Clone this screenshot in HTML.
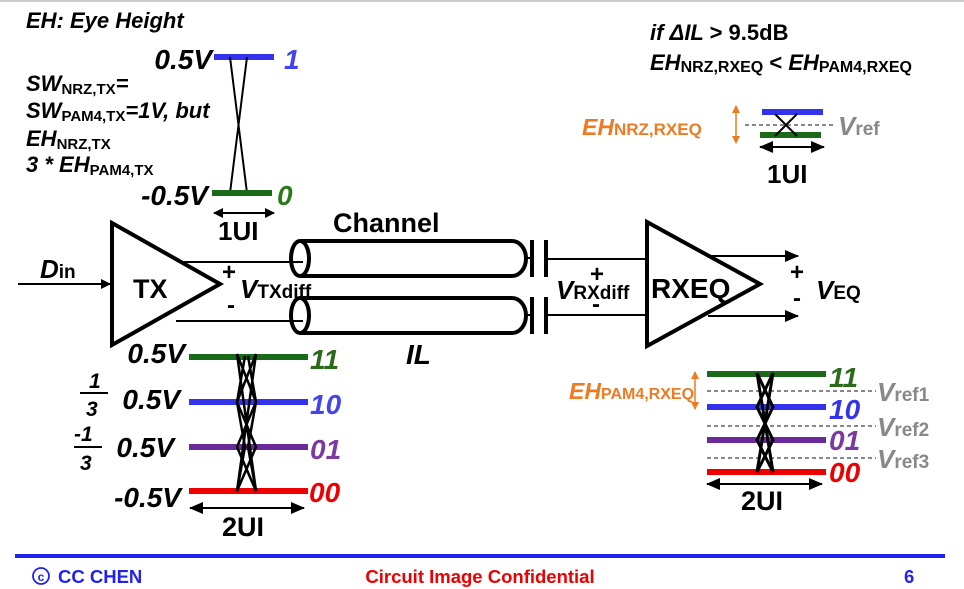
<!DOCTYPE html>
<html><head><meta charset="utf-8"><style>
html,body{margin:0;padding:0;background:#fff;}
svg{display:block;font-family:"Liberation Sans",Arial,sans-serif;font-weight:bold;}
.i{font-style:italic;}
</style></head><body>
<svg width="964" height="589" viewBox="0 0 964 589" xmlns="http://www.w3.org/2000/svg">
<defs>
<marker id="ah" markerWidth="10" markerHeight="10" refX="9" refY="5" orient="auto-start-reverse" markerUnits="userSpaceOnUse"><path d="M0,0 L10,5 L0,10 z" fill="#000"/></marker>
<marker id="ah2" markerWidth="14" markerHeight="12" refX="13" refY="6" orient="auto-start-reverse" markerUnits="userSpaceOnUse"><path d="M0,0 L14,6 L0,12 z" fill="#000"/></marker>
<marker id="ao" markerWidth="8" markerHeight="8" refX="7" refY="4" orient="auto-start-reverse" markerUnits="userSpaceOnUse"><path d="M0,0 L8,4 L0,8 z" fill="#ee7a22"/></marker>
</defs>
<line x1="0" y1="1" x2="964" y2="1" stroke="#ccc" stroke-width="2"/>

<text x="26" y="28" font-size="22" class="i">EH: Eye Height</text>

<!-- NRZ TX eye -->
<text x="212" y="69" font-size="28" class="i" text-anchor="end">0.5V</text>
<rect x="214" y="54" width="60" height="6" fill="#3333ee"/>
<text x="284" y="69" font-size="28" class="i" fill="#4444ee">1</text>
<line x1="230" y1="57" x2="247" y2="193" stroke="#000" stroke-width="2"/>
<line x1="247" y1="57" x2="230" y2="193" stroke="#000" stroke-width="2"/>
<rect x="212" y="190" width="60" height="6" fill="#1a6a1a"/>
<text x="208" y="205" font-size="28" class="i" text-anchor="end">-0.5V</text>
<text x="277" y="205" font-size="28" class="i" fill="#2a7a1a">0</text>
<line x1="214" y1="213" x2="274" y2="213" stroke="#000" stroke-width="2" marker-start="url(#ah)" marker-end="url(#ah)"/>
<text x="218" y="240" font-size="26">1UI</text>

<text x="26" y="91" font-size="22" class="i">SW<tspan font-size="15" font-style="normal" dy="3">NRZ,TX</tspan><tspan dy="-3">=</tspan></text>
<text x="26" y="118" font-size="22" class="i">SW<tspan font-size="15" font-style="normal" dy="3">PAM4,TX</tspan><tspan dy="-3">=1V, but</tspan></text>
<text x="26" y="146" font-size="22" class="i">EH<tspan font-size="15" font-style="normal" dy="3">NRZ,TX</tspan></text>
<text x="26" y="172" font-size="22" class="i">3 * EH<tspan font-size="15" font-style="normal" dy="3">PAM4,TX</tspan></text>

<!-- TX -->
<line x1="18" y1="284" x2="110" y2="284" stroke="#000" stroke-width="2" marker-end="url(#ah)"/>
<text x="40" y="278" font-size="26" class="i">D<tspan font-size="19" font-style="normal">in</tspan></text>
<path d="M112,223 L220,284 L112,345 Z" fill="none" stroke="#000" stroke-width="4"/>
<text x="133" y="298" font-size="27">TX</text>
<line x1="180" y1="262" x2="303" y2="262" stroke="#000" stroke-width="2"/>
<line x1="176" y1="321" x2="303" y2="321" stroke="#000" stroke-width="2"/>
<text x="222" y="280" font-size="24">+</text>
<text x="240" y="298" font-size="26" class="i">V<tspan font-size="19" font-style="normal">TXdiff</tspan></text>
<text x="227" y="313" font-size="24">-</text>

<!-- Channel -->
<text x="333" y="232" font-size="27">Channel</text>
<g fill="none" stroke="#000" stroke-width="4">
<path d="M300,241 L512,241 A14,17.5 0 0 1 512,276 L300,276"/>
<ellipse cx="300" cy="258.5" rx="9" ry="17.5"/>
<path d="M300,298 L512,298 A14,17.5 0 0 1 512,333 L300,333"/>
<ellipse cx="300" cy="315.5" rx="9" ry="17.5"/>
</g>
<line x1="526" y1="258" x2="532" y2="258" stroke="#000" stroke-width="2"/>
<line x1="526" y1="315" x2="532" y2="315" stroke="#000" stroke-width="2"/>
<g stroke="#000" stroke-width="4">
<line x1="532" y1="240" x2="532" y2="277"/><line x1="546" y1="240" x2="546" y2="277"/>
<line x1="532" y1="297" x2="532" y2="334"/><line x1="546" y1="297" x2="546" y2="334"/>
</g>
<line x1="546" y1="259" x2="647" y2="259" stroke="#000" stroke-width="2"/>
<line x1="546" y1="315" x2="647" y2="315" stroke="#000" stroke-width="2"/>
<text x="406" y="364" font-size="28" class="i">IL</text>
<text x="590" y="282" font-size="24">+</text>
<text x="592" y="312" font-size="24">-</text>
<text x="556" y="299" font-size="26" class="i">V<tspan font-size="19" font-style="normal">RXdiff</tspan></text>

<!-- RXEQ -->
<path d="M647,222 L760,284 L647,346 Z" fill="none" stroke="#000" stroke-width="4"/>
<text x="651" y="298" font-size="28">RXEQ</text>
<line x1="708" y1="256" x2="798" y2="256" stroke="#000" stroke-width="2" marker-end="url(#ah2)"/>
<line x1="708" y1="316" x2="798" y2="316" stroke="#000" stroke-width="2" marker-end="url(#ah2)"/>
<text x="790" y="280" font-size="24">+</text>
<text x="793" y="306" font-size="24">-</text>
<text x="816" y="299" font-size="26" class="i">V<tspan font-size="19" font-style="normal">EQ</tspan></text>

<!-- PAM4 TX eye -->
<rect x="189" y="354" width="119" height="6" fill="#1a6a1a"/>
<rect x="189" y="399" width="119" height="6" fill="#3333ee"/>
<rect x="189" y="444" width="119" height="6" fill="#6a2a9a"/>
<rect x="189" y="488" width="119" height="6" fill="#ee0000"/>
<g stroke="#000" stroke-width="2.5" fill="none">
<path d="M237,354 L256,491 M256,354 L237,491"/>
<path d="M237,354 L256,402 L237,447 L256,491 M256,354 L237,402 L256,447 L237,491"/>
<path d="M245,356 L237,402 L245,447 L237,491 M248,356 L256,402 L248,447 L256,491"/>
</g>
<text x="185" y="363" font-size="28" class="i" text-anchor="end">0.5V</text>
<text x="180" y="409" font-size="28" class="i" text-anchor="end">0.5V</text>
<text x="174" y="457" font-size="28" class="i" text-anchor="end">0.5V</text>
<text x="181" y="507" font-size="28" class="i" text-anchor="end">-0.5V</text>
<text x="89" y="388" font-size="21" class="i">1</text>
<line x1="80" y1="393" x2="108" y2="393" stroke="#000" stroke-width="2"/>
<text x="86" y="416" font-size="21" class="i">3</text>
<text x="74" y="441" font-size="21" class="i">-1</text>
<line x1="74" y1="447" x2="102" y2="447" stroke="#000" stroke-width="2"/>
<text x="80" y="470" font-size="21" class="i">3</text>
<text x="310" y="369" font-size="28" class="i" fill="#2a6a1a">11</text>
<text x="310" y="414" font-size="28" class="i" fill="#4444ee">10</text>
<text x="310" y="459" font-size="28" class="i" fill="#7a3aa0">01</text>
<text x="309" y="502" font-size="28" class="i" fill="#ee0000">00</text>
<line x1="190" y1="508" x2="304" y2="508" stroke="#000" stroke-width="2" marker-start="url(#ah2)" marker-end="url(#ah2)"/>
<text x="222" y="536" font-size="27">2UI</text>

<!-- Right top text -->
<text x="650" y="40" font-size="22" class="i">if ΔIL <tspan font-style="normal">&gt; 9.5dB</tspan></text>
<text x="650" y="70" font-size="22" class="i">EH<tspan font-size="16" font-style="normal" dy="2">NRZ,RXEQ</tspan><tspan font-style="normal" dy="-2"> &lt; </tspan>EH<tspan font-size="16" font-style="normal" dy="2">PAM4,RXEQ</tspan></text>

<!-- NRZ RX eye -->
<rect x="762" y="109" width="61" height="6" fill="#3333ee"/>
<rect x="760" y="132" width="61" height="6" fill="#1a6a1a"/>
<line x1="745" y1="125" x2="836" y2="125" stroke="#888" stroke-width="2" stroke-dasharray="4,3"/>
<line x1="775" y1="114" x2="797" y2="136" stroke="#000" stroke-width="2"/>
<line x1="797" y1="114" x2="775" y2="136" stroke="#000" stroke-width="2"/>
<text x="838" y="135" font-size="26" class="i" fill="#888">V<tspan font-size="19" font-style="normal">ref</tspan></text>
<line x1="736" y1="106" x2="736" y2="143" stroke="#ee7a22" stroke-width="1.5" marker-start="url(#ao)" marker-end="url(#ao)"/>
<text x="582" y="135" font-size="23" class="i" fill="#ee7a22">EH<tspan font-size="17" font-style="normal">NRZ,RXEQ</tspan></text>
<line x1="760" y1="147" x2="824" y2="147" stroke="#000" stroke-width="2" marker-start="url(#ah2)" marker-end="url(#ah2)"/>
<text x="767" y="183" font-size="26">1UI</text>

<!-- PAM4 RX eye -->
<rect x="707" y="371" width="119" height="6" fill="#1a6a1a"/>
<rect x="707" y="404" width="119" height="6" fill="#3333ee"/>
<rect x="707" y="437" width="119" height="6" fill="#6a2a9a"/>
<rect x="707" y="469" width="119" height="6" fill="#ee0000"/>
<g stroke="#888" stroke-width="2" stroke-dasharray="4,3">
<line x1="707" y1="391" x2="876" y2="391"/>
<line x1="707" y1="426" x2="876" y2="426"/>
<line x1="707" y1="458" x2="876" y2="458"/>
</g>
<g stroke="#000" stroke-width="3" fill="none">
<path d="M757,373 L773,472 M773,373 L757,472"/>
<path d="M757,373 L773,407 L757,440 L773,472 M773,373 L757,407 L773,440 L757,472"/>
</g>
<text x="829" y="387" font-size="28" class="i" fill="#2a6a1a">11</text>
<text x="829" y="419" font-size="28" class="i" fill="#3333ee">10</text>
<text x="829" y="450" font-size="28" class="i" fill="#7a3aa0">01</text>
<text x="829" y="482" font-size="28" class="i" fill="#ee0000">00</text>
<text x="877" y="401" font-size="26" class="i" fill="#888">V<tspan font-size="19" font-style="normal">ref1</tspan></text>
<text x="877" y="436" font-size="26" class="i" fill="#888">V<tspan font-size="19" font-style="normal">ref2</tspan></text>
<text x="877" y="468" font-size="26" class="i" fill="#888">V<tspan font-size="19" font-style="normal">ref3</tspan></text>
<line x1="695" y1="372" x2="695" y2="409" stroke="#ee7a22" stroke-width="1.5" marker-start="url(#ao)" marker-end="url(#ao)"/>
<text x="569" y="399" font-size="23" class="i" fill="#ee7a22">EH<tspan font-size="16" font-style="normal">PAM4,RXEQ</tspan></text>
<line x1="707" y1="484" x2="822" y2="484" stroke="#000" stroke-width="2" marker-start="url(#ah2)" marker-end="url(#ah2)"/>
<text x="741" y="510" font-size="27">2UI</text>

<!-- Footer -->
<rect x="15" y="554" width="930" height="4" fill="#2222ee"/>
<circle cx="41" cy="576" r="8" fill="none" stroke="#2222ee" stroke-width="1.8"/>
<text x="41" y="581" font-size="12" fill="#2222ee" text-anchor="middle">c</text>
<text x="58" y="583" font-size="18.5" fill="#2222ee">CC CHEN</text>
<text x="480" y="583" font-size="18.5" fill="#ee0000" text-anchor="middle">Circuit Image Confidential</text>
<text x="904" y="583" font-size="18.5" fill="#2222ee">6</text>
</svg>
</body></html>
